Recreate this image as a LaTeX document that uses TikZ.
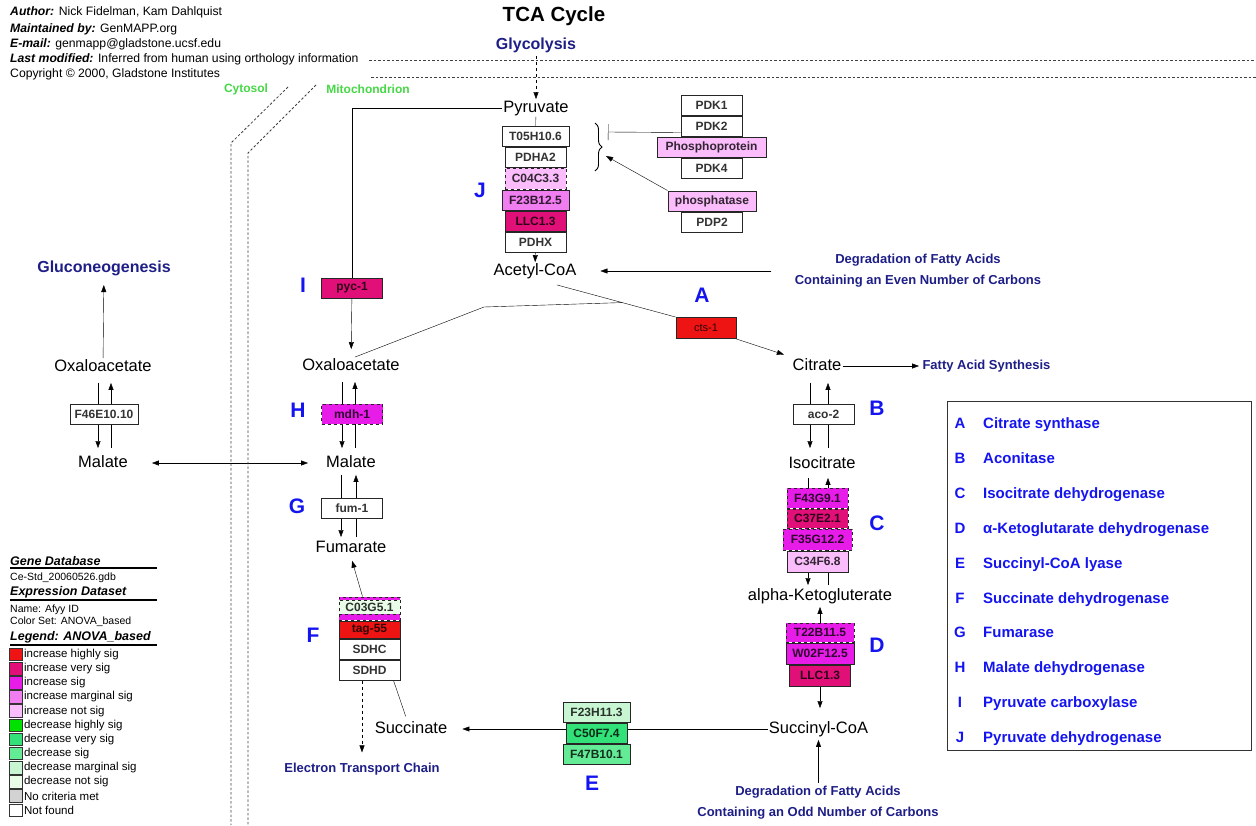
\documentclass[tikz,border=0pt]{standalone}
\usepackage{fontspec}
\setmainfont{Liberation Sans}
\usetikzlibrary{arrows.meta,positioning,backgrounds,calc,decorations.pathreplacing}

\definecolor{incHigh}{RGB}{238,20,20}
\definecolor{incVery}{RGB}{225,15,120}
\definecolor{incSig}{RGB}{232,28,232}
\definecolor{incMarg}{RGB}{240,126,240}
\definecolor{incNot}{RGB}{250,188,250}
\definecolor{decHigh}{RGB}{0,225,0}
\definecolor{decVery}{RGB}{50,225,120}
\definecolor{decSig}{RGB}{100,235,150}
\definecolor{decMarg}{RGB}{200,245,210}
\definecolor{decNot}{RGB}{232,252,232}
\definecolor{noCrit}{RGB}{210,210,210}
\definecolor{navy}{RGB}{30,30,135}
\definecolor{letblue}{RGB}{20,20,240}
\definecolor{memgreen}{RGB}{70,215,70}

\tikzset{
  met/.style={font=\fontsize{16.5}{18}\selectfont, inner sep=1pt, text height=12pt, text depth=3.5pt},
  gene/.style={draw=black!85, line width=1pt, fill=#1, text=#1!20!black,
    font=\bfseries\fontsize{12}{12}\selectfont, minimum width=61pt, minimum height=20pt, inner sep=0pt},
  gene/.default=white,
  pway/.style={text=navy, font=\bfseries\fontsize{13}{21}\selectfont, align=center},
  enz/.style={text=letblue, font=\bfseries\fontsize{21}{21}\selectfont},
  keytxt/.style={text=letblue, anchor=base, inner sep=0pt, font=\bfseries\fontsize{15}{15}\selectfont},
  arr/.style={-{Triangle[length=7pt,width=5pt]}},
  memb/.style={dash pattern=on 2.5pt off 2pt, line width=0.8pt, black!75},
  hdr/.style={anchor=west, inner sep=1pt, font=\fontsize{12.2}{13}\selectfont},
  leghd/.style={anchor=west, inner sep=1pt, font=\bfseries\itshape\fontsize{12.5}{13}\selectfont},
  legsm/.style={anchor=west, inner sep=1pt, font=\fontsize{10.5}{11}\selectfont},
  legsq/.style={draw=black!80, line width=0.8pt, minimum width=13pt, minimum height=12.5pt, inner sep=0pt},
  legtxt/.style={inner sep=1pt, font=\fontsize{11.5}{12}\selectfont},
}

\begin{document}
\begin{tikzpicture}[x=1pt,y=-1pt]
  \useasboundingbox (0,0) rectangle (1256,825);

  \node[hdr] (hAuth) at (9,12) {\textbf{\textit{Author:}} Nick Fidelman, Kam Dahlquist};
  \node[hdr] (hMaint) at (9,29) {\textbf{\textit{Maintained by:}} GenMAPP.org};
  \node[hdr] (hMail) at (9,44) {\textbf{\textit{E-mail:}} genmapp@gladstone.ucsf.edu};
  \node[hdr] (hMod) at (9,59) {\textbf{\textit{Last modified:}} Inferred from human using orthology information};
  \node[hdr] (hCopy) at (9,74) {Copyright © 2000, Gladstone Institutes};
  \node[font=\bfseries\fontsize{20.5}{21}\selectfont] (title) at (554,16) {TCA Cycle};

  \draw[memb] (369,60) -- (1256,60);
  \draw[memb] (371,77) -- (1256,77);
  \draw[memb] (288,87) -- (231,143) -- (231,825);
  \draw[memb] (316,85) -- (248,153) -- (248,825);
  \node[text=memgreen, font=\bfseries\fontsize{12}{12}\selectfont] (cyto) at (246,89) {Cytosol};
  \node[text=memgreen, font=\bfseries\fontsize{12}{12}\selectfont] (mito) at (368,89) {Mitochondrion};

  \node[pway, font=\bfseries\fontsize{16}{16}\selectfont] (glyco) at (536,45) {Glycolysis};
  \node[pway, font=\bfseries\fontsize{16}{16}\selectfont] (gneo) at (104,268) {Gluconeogenesis};
  \node[pway] (evenDeg) at (918,271) {Degradation of Fatty Acids\\Containing an Even Number of Carbons};
  \node[pway] (oddDeg) at (818,803) {Degradation of Fatty Acids\\Containing an Odd Number of Carbons};
  \node[pway, anchor=west] (fas) at (919,366) {Fatty Acid Synthesis};
  \node[pway] (etc) at (362,769) {Electron Transport Chain};

  \node[met] (pyr) at (536,108) {Pyruvate};
  \node[met] (acoa) at (535,271) {Acetyl-CoA};
  \node[met] (cit) at (817,366) {Citrate};
  \node[met] (iso) at (822,464) {Isocitrate};
  \node[met] (akg) at (820,596) {alpha-Ketogluterate};
  \node[met] (scoa) at (818.5,729) {Succinyl-CoA};
  \node[met] (succ) at (411,729) {Succinate};
  \node[met] (fumr) at (351,548) {Fumarate};
  \node[met] (mal) at (351,463) {Malate};
  \node[met] (oaa) at (351,366) {Oxaloacetate};
  \node[met] (oaaC) at (103,367) {Oxaloacetate};
  \node[met] (malC) at (103,463) {Malate};

  \node[gene, minimum width=67pt] (pdhT) at (535.5,136) {T05H10.6};
  \node[gene, below=0pt of pdhT] (pdhA) {PDHA2};
  \node[gene=incNot, dashed, minimum height=21pt, below=0pt of pdhA] (pdhC) {C04C3.3};
  \node[gene=incMarg, minimum width=67pt, below=0pt of pdhC] (pdhF) {F23B12.5};
  \node[gene=incVery, below=0pt of pdhF] (pdhL) {LLC1.3};
  \node[gene, below=0pt of pdhL] (pdhX) {PDHX};

  \node[gene] (pdk1) at (711.5,105.5) {PDK1};
  \node[gene, below=0pt of pdk1] (pdk2) {PDK2};
  \node[gene=incNot, minimum width=109pt, below=0pt of pdk2] (phpr) {Phosphoprotein};
  \node[gene, below=0pt of phpr] (pdk4) {PDK4};
  \node[gene=incNot, minimum width=88pt] (phtase) at (712,201) {phosphatase};
  \node[gene, below=0pt of phtase] (pdp2) {PDP2};
  \draw[decorate, decoration={brace, amplitude=7pt}, line width=0.9pt] (595,123) -- (595,171);
  \coordinate (brBar) at (608,132);
  \coordinate (brTip) at (606,156);

  \node[gene=incVery] (pyc1) at (352,288) {pyc-1};
  \node[gene=incHigh, minimum width=60pt, minimum height=21pt, font=\fontsize{11}{11}\selectfont] (cts1) at (706,328) {cts-1};
  \node[gene] (aco2) at (823.5,414) {aco-2};
  \node[gene=incSig, dashed] (mdh1) at (352,414) {mdh-1};
  \node[gene] (fum1) at (352,508) {fum-1};
  \node[gene, minimum width=68pt] (f46) at (104,414) {F46E10.10};

  \node[gene=incSig, dashed] (idhA) at (817.5,498) {F43G9.1};
  \node[gene=incVery, dashed, minimum height=19pt, below=0pt of idhA] (idhB) {C37E2.1};
  \node[gene=incSig, dashed, minimum width=69pt, minimum height=21pt, below=0pt of idhB] (idhC) {F35G12.2};
  \node[gene=incNot, minimum height=21pt, below=0pt of idhC] (idhD) {C34F6.8};

  \node[gene=incSig, dashed, minimum width=68pt, minimum height=19pt] (kgdA) at (820,632.5) {T22B11.5};
  \node[gene=incSig, minimum width=68pt, minimum height=21pt, below=0pt of kgdA] (kgdB) {W02F12.5};
  \node[gene=incVery, minimum height=21pt, below=0pt of kgdB] (kgdC) {LLC1.3};

  \node[gene=decMarg, minimum width=67pt] (sclA) at (596.5,712) {F23H11.3};
  \node[gene=decVery, below=0pt of sclA] (sclB) {C50F7.4};
  \node[gene=decSig, minimum width=67pt, below=0pt of sclB] (sclC) {F47B10.1};

  \node[gene=incSig, dashed, minimum height=23pt] (sdhM) at (369.5,608.5) {};
  \node[gene=decNot, dashed, minimum height=14pt] (sdhA) at (369.5,607) {C03G5.1};
  \node[gene=incHigh, minimum height=17pt, below=0pt of sdhM] (sdhB) {tag-55};
  \node[gene, below=0pt of sdhB] (sdhC) {SDHC};
  \node[gene, below=0pt of sdhC] (sdhD) {SDHD};

  \node[enz] (labA) at (702,295) {A};
  \node[enz] (labB) at (877,408) {B};
  \node[enz] (labC) at (877,523) {C};
  \node[enz] (labD) at (877,645) {D};
  \node[enz] (labE) at (592,783) {E};
  \node[enz] (labF) at (313,635) {F};
  \node[enz] (labG) at (297,506) {G};
  \node[enz] (labH) at (298,410) {H};
  \node[enz] (labI) at (303,285) {I};
  \node[enz] (labJ) at (480,190) {J};

  \begin{scope}[on background layer, line width=0.8pt]
    \draw[arr, dashed] (glyco) -- (pyr);
    \draw (pyr) -- (pdhT);
    \draw[arr] (pdhX) -- (acoa);
    \draw[-{Bar[width=16pt]}] ([yshift=-6pt]pdk2.west) -- (brBar);
    \draw[arr] (phtase.north west) -- (brTip);
    \draw (pyr.west) -- (pyr.west -| pyc1.north) -- (pyc1);
    \draw[arr, shorten >=8pt] (pyc1) -- (oaa);
    \draw[arr, shorten <=20pt, shorten >=23pt] (evenDeg.west) -- (acoa.east);
    \coordinate (acoaS) at ([xshift=22pt,yshift=-5pt]acoa.south);
    \coordinate (csJ) at ($(acoaS)!0.55!(cts1.north west)$);
    \coordinate (oaaKnee) at (484,307);
    \draw (acoaS) -- (cts1.north west);
    \draw ([xshift=4pt]oaa.north) -- (oaaKnee) -- (csJ);
    \draw[arr, shorten >=8pt] (cts1.south east) -- (cit.north west);
    \draw[arr] (cit) -- (fas);
    \draw[arr, shorten <=7pt, shorten >=6pt] ([xshift=-5pt]oaaC.south) -- ([xshift=-5pt]malC.north);
    \draw[arr, shorten <=6pt, shorten >=7pt] ([xshift=8pt]malC.north) -- ([xshift=8pt]oaaC.south);
    \draw[arr, shorten >=6pt] (oaaC) -- (gneo);
    \draw[{Triangle[length=7pt,width=5pt]}-{Triangle[length=7pt,width=5pt]}, shorten <=23pt, shorten >=17pt] (malC) -- (mal);
    \draw[arr, shorten <=7pt, shorten >=6pt] ([xshift=-9pt]oaa.south) -- ([xshift=-9pt]mal.north);
    \draw[arr, shorten <=6pt, shorten >=7pt] ([xshift=4pt]mal.north) -- ([xshift=4pt]oaa.south);
    \draw[arr, shorten <=3pt, shorten >=2pt] ([xshift=-10pt]mal.south) -- ([xshift=-10pt]fumr.north);
    \draw[arr, shorten <=2pt, shorten >=3pt] ([xshift=5pt]fumr.north) -- ([xshift=5pt]mal.south);
    \draw[arr, shorten <=8pt, shorten >=7pt] ([xshift=-7pt]cit.south) -- ([xshift=-12pt]iso.north);
    \draw[arr, shorten <=7pt, shorten >=8pt] ([xshift=6pt]iso.north) -- ([xshift=11pt]cit.south);
    \draw[arr, shorten <=5pt, shorten >=2pt] ([xshift=-14pt]iso.south) -- ([xshift=-12pt]akg.north);
    \draw[arr, shorten <=2pt, shorten >=5pt] ([xshift=8pt]akg.north) -- ([xshift=6pt]iso.south);
    \draw[arr, shorten >=2pt] (kgdA.north) -- (kgdA.north |- akg.south);
    \draw[arr, shorten >=12pt] (kgdC.south) -- (kgdC.south |- scoa.north);
    \draw[arr, shorten >=2pt] (oddDeg.north -| scoa.south) -- (scoa.south);
    \draw[arr, shorten >=14pt] (scoa) -- (succ);
    \draw[shorten <=4pt] ([xshift=-4pt]succ.north) -- ([xshift=24pt]sdhD.south);
    \draw[arr, dashed, shorten >=7pt] (sdhD.south -| etc.north) -- (etc.north);
    \draw[arr, shorten >=4pt] ([xshift=-7pt]sdhM.north) -- (fumr.south);
  \end{scope}

  \draw[line width=1pt, black!80] (947,401) rectangle (1251,750);
  \foreach \ltr/\nm [count=\i] in {A/Citrate synthase, B/Aconitase, C/Isocitrate dehydrogenase,
      D/α-Ketoglutarate dehydrogenase, E/Succinyl-CoA lyase, F/Succinate dehydrogenase,
      G/Fumarase, H/Malate dehydrogenase, I/Pyruvate carboxylase, J/Pyruvate dehydrogenase}
  {
    \node[keytxt] (keyL\i) at (960,{428.5+34.9*(\i-1)}) {\ltr};
    \node[keytxt, anchor=base west] (keyN\i) at (983,{428.5+34.9*(\i-1)}) {\nm};
  }

  \node[leghd] (gdbH) at (9,561) {Gene Database};
  \draw[line width=1.6pt] (10,568) -- (157,568);
  \node[legsm] (gdb) at (9,578) {Ce-Std\_20060526.gdb};
  \node[leghd] (edH) at (9,592) {Expression Dataset};
  \draw[line width=1.6pt] (10,600) -- (157,600);
  \node[legsm] (edN) at (9,610) {Name: Afyy ID};
  \node[legsm] (edC) at (9,622) {Color Set: ANOVA\_based};
  \node[leghd] (legH) at (9,637) {Legend: ANOVA\_based};
  \draw[line width=1.6pt] (10,645) -- (157,645);
  \foreach \c/\t [count=\i] in {incHigh/increase highly sig, incVery/increase very sig,
      incSig/increase sig, incMarg/increase marginal sig, incNot/increase not sig,
      decHigh/decrease highly sig, decVery/decrease very sig, decSig/decrease sig,
      decMarg/decrease marginal sig, decNot/decrease not sig, noCrit/No criteria met, white/Not found}
  {
    \node[legsq, fill=\c] (sq\i) at (15.5,{654.5+14.15*(\i-1)}) {};
    \node[legtxt, right=0.5pt of sq\i] (lt\i) {\t};
  }
\end{tikzpicture}
\end{document}
